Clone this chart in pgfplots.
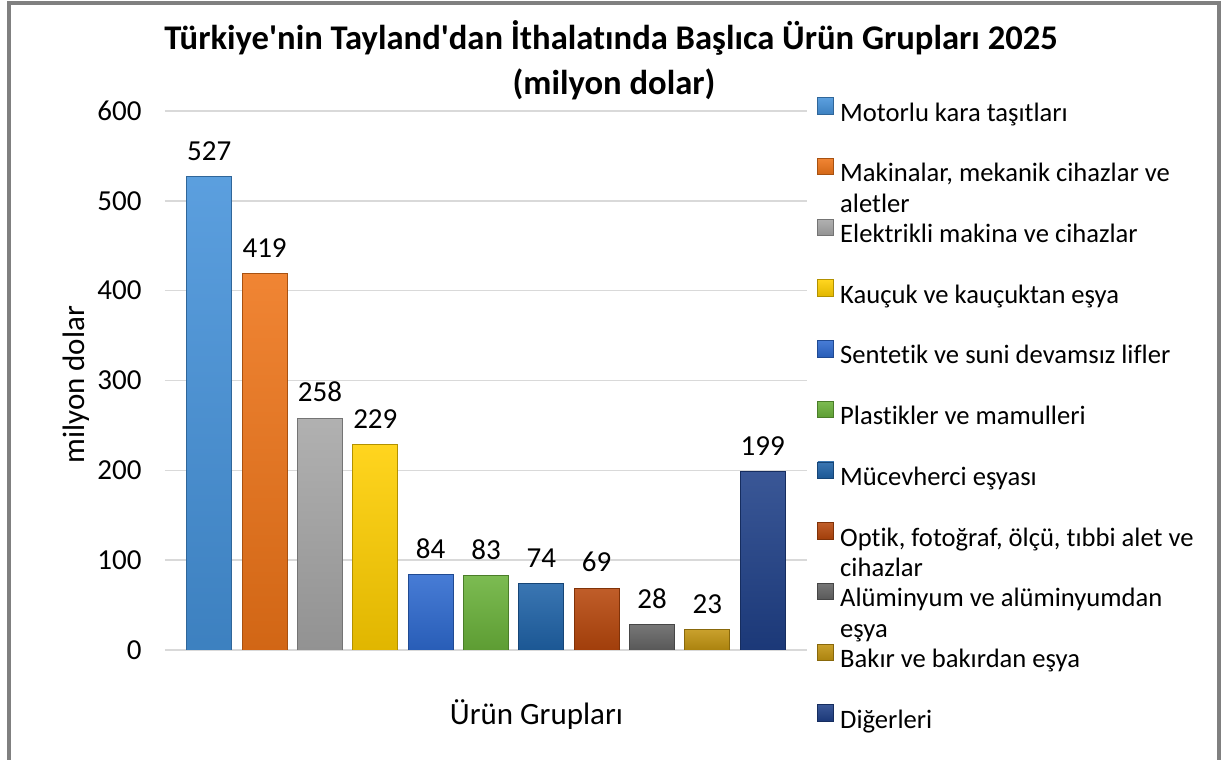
\documentclass[border=0pt]{standalone}
\usepackage{pgfplots}
\pgfplotsset{compat=1.18}
\usepackage{fontspec}
\setmainfont{Carlito}[Ligatures={TeX,NoCommon}]
\definecolor{c1}{HTML}{4592DA}
\definecolor{c2}{HTML}{EE7418}
\definecolor{c3}{HTML}{A6A6A6}
\definecolor{c4}{HTML}{FFCF00}
\definecolor{c5}{HTML}{2E6AD0}
\definecolor{c6}{HTML}{6AB23A}
\definecolor{c7}{HTML}{1F63A8}
\definecolor{c8}{HTML}{B7470C}
\definecolor{c9}{HTML}{646464}
\definecolor{c10}{HTML}{C29410}
\definecolor{c11}{HTML}{1F4088}
\definecolor{gridgray}{HTML}{D9D9D9}
\definecolor{framegray}{HTML}{808080}
\pgfplotsset{
  barstyle/.style={fill=#1, draw=#1!70!black, line width=0.4pt, top color=#1!88!white, bottom color=#1!88!black},
}
\newcommand{\two}[2]{\smash{\begin{tabular}[t]{@{}l@{}}#1\\#2\end{tabular}}}
\begin{document}
\begin{tikzpicture}[x=1pt,y=1pt]
\path[use as bounding box] (-82.5,-55) rectangle (529,325);
\draw[line width=1.75pt, framegray] (-78,-56) -- (-78,323.6) -- (527,323.6) -- (527,-56);
\begin{axis}[
  at={(0,0)}, anchor=south west,
  width=321pt, height=269.5pt, scale only axis,
  xmin=-0.8, xmax=10.8, ymin=0, ymax=600,
  ytick={0,100,...,600}, xtick=\empty,
  axis line style={draw=none}, major tick length=0pt,
  ymajorgrids, grid style={color=gridgray, line width=0.75pt},
  /pgf/number format/assume math mode=true,
  ticklabel style={font=\fontsize{14.5}{17.4}\selectfont},
  yticklabel style={xshift=-8.2pt},
  ybar, bar width=22.5pt, bar shift=0pt,
  nodes near coords,
  nodes near coords style={font=\fontsize{14.5}{17.4}\selectfont, anchor=south, yshift=4.5pt, text=black},
  xlabel={Ürün Grupları},
  xlabel style={font=\fontsize{15.5}{18.6}\selectfont, at={(axis description cs:0.5786,-0.1206)}, anchor=center},
  ylabel={milyon dolar},
  ylabel style={font=\fontsize{15.5}{18.6}\selectfont, at={(axis description cs:-0.139,0.492)}, anchor=center},
  legend style={at={(axis description cs:1.0156,1.026)}, anchor=north west, draw=none, fill=none,
    inner sep=0pt, row sep=15.45pt, column sep=3pt,
    font=\fontsize{13.3}{15.35}\selectfont,
    nodes={inner sep=0pt, text height=10pt, text depth=3pt}},
  legend cell align=left,
  legend image code/.code={\fill[#1] (0pt,0pt) rectangle (8pt,8.2pt);},
]
\addplot[barstyle=c1] coordinates {(0,527)};
\addlegendentry{Motorlu kara taşıtları}
\addplot[barstyle=c2] coordinates {(1,419)};
\addlegendentry{\two{Makinalar, mekanik cihazlar ve}{aletler}}
\addplot[barstyle=c3] coordinates {(2,258)};
\addlegendentry{Elektrikli makina ve cihazlar}
\addplot[barstyle=c4] coordinates {(3,229)};
\addlegendentry{Kauçuk ve kauçuktan eşya}
\addplot[barstyle=c5] coordinates {(4,84)};
\addlegendentry{Sentetik ve suni devamsız lifler}
\addplot[barstyle=c6] coordinates {(5,83)};
\addlegendentry{Plastikler ve mamulleri}
\addplot[barstyle=c7] coordinates {(6,74)};
\addlegendentry{Mücevherci eşyası}
\addplot[barstyle=c8] coordinates {(7,69)};
\addlegendentry{\two{Optik, fotoğraf, ölçü, tıbbi alet ve}{cihazlar}}
\addplot[barstyle=c9] coordinates {(8,28)};
\addlegendentry{\two{Alüminyum ve alüminyumdan}{eşya}}
\addplot[barstyle=c10] coordinates {(9,23)};
\addlegendentry{Bakır ve bakırdan eşya}
\addplot[barstyle=c11] coordinates {(10,199)};
\addlegendentry{Diğerleri}
\end{axis}
\node[anchor=base, font=\bfseries\fontsize{17.3}{20.8}\selectfont] at (223,300) {Türkiye\textquotesingle nin Tayland\textquotesingle dan İthalatında Başlıca Ürün Grupları 2025};
\node[anchor=base, font=\bfseries\fontsize{17.3}{20.8}\selectfont] at (224.5,277.5) {(milyon dolar)};
\end{tikzpicture}
\end{document}
